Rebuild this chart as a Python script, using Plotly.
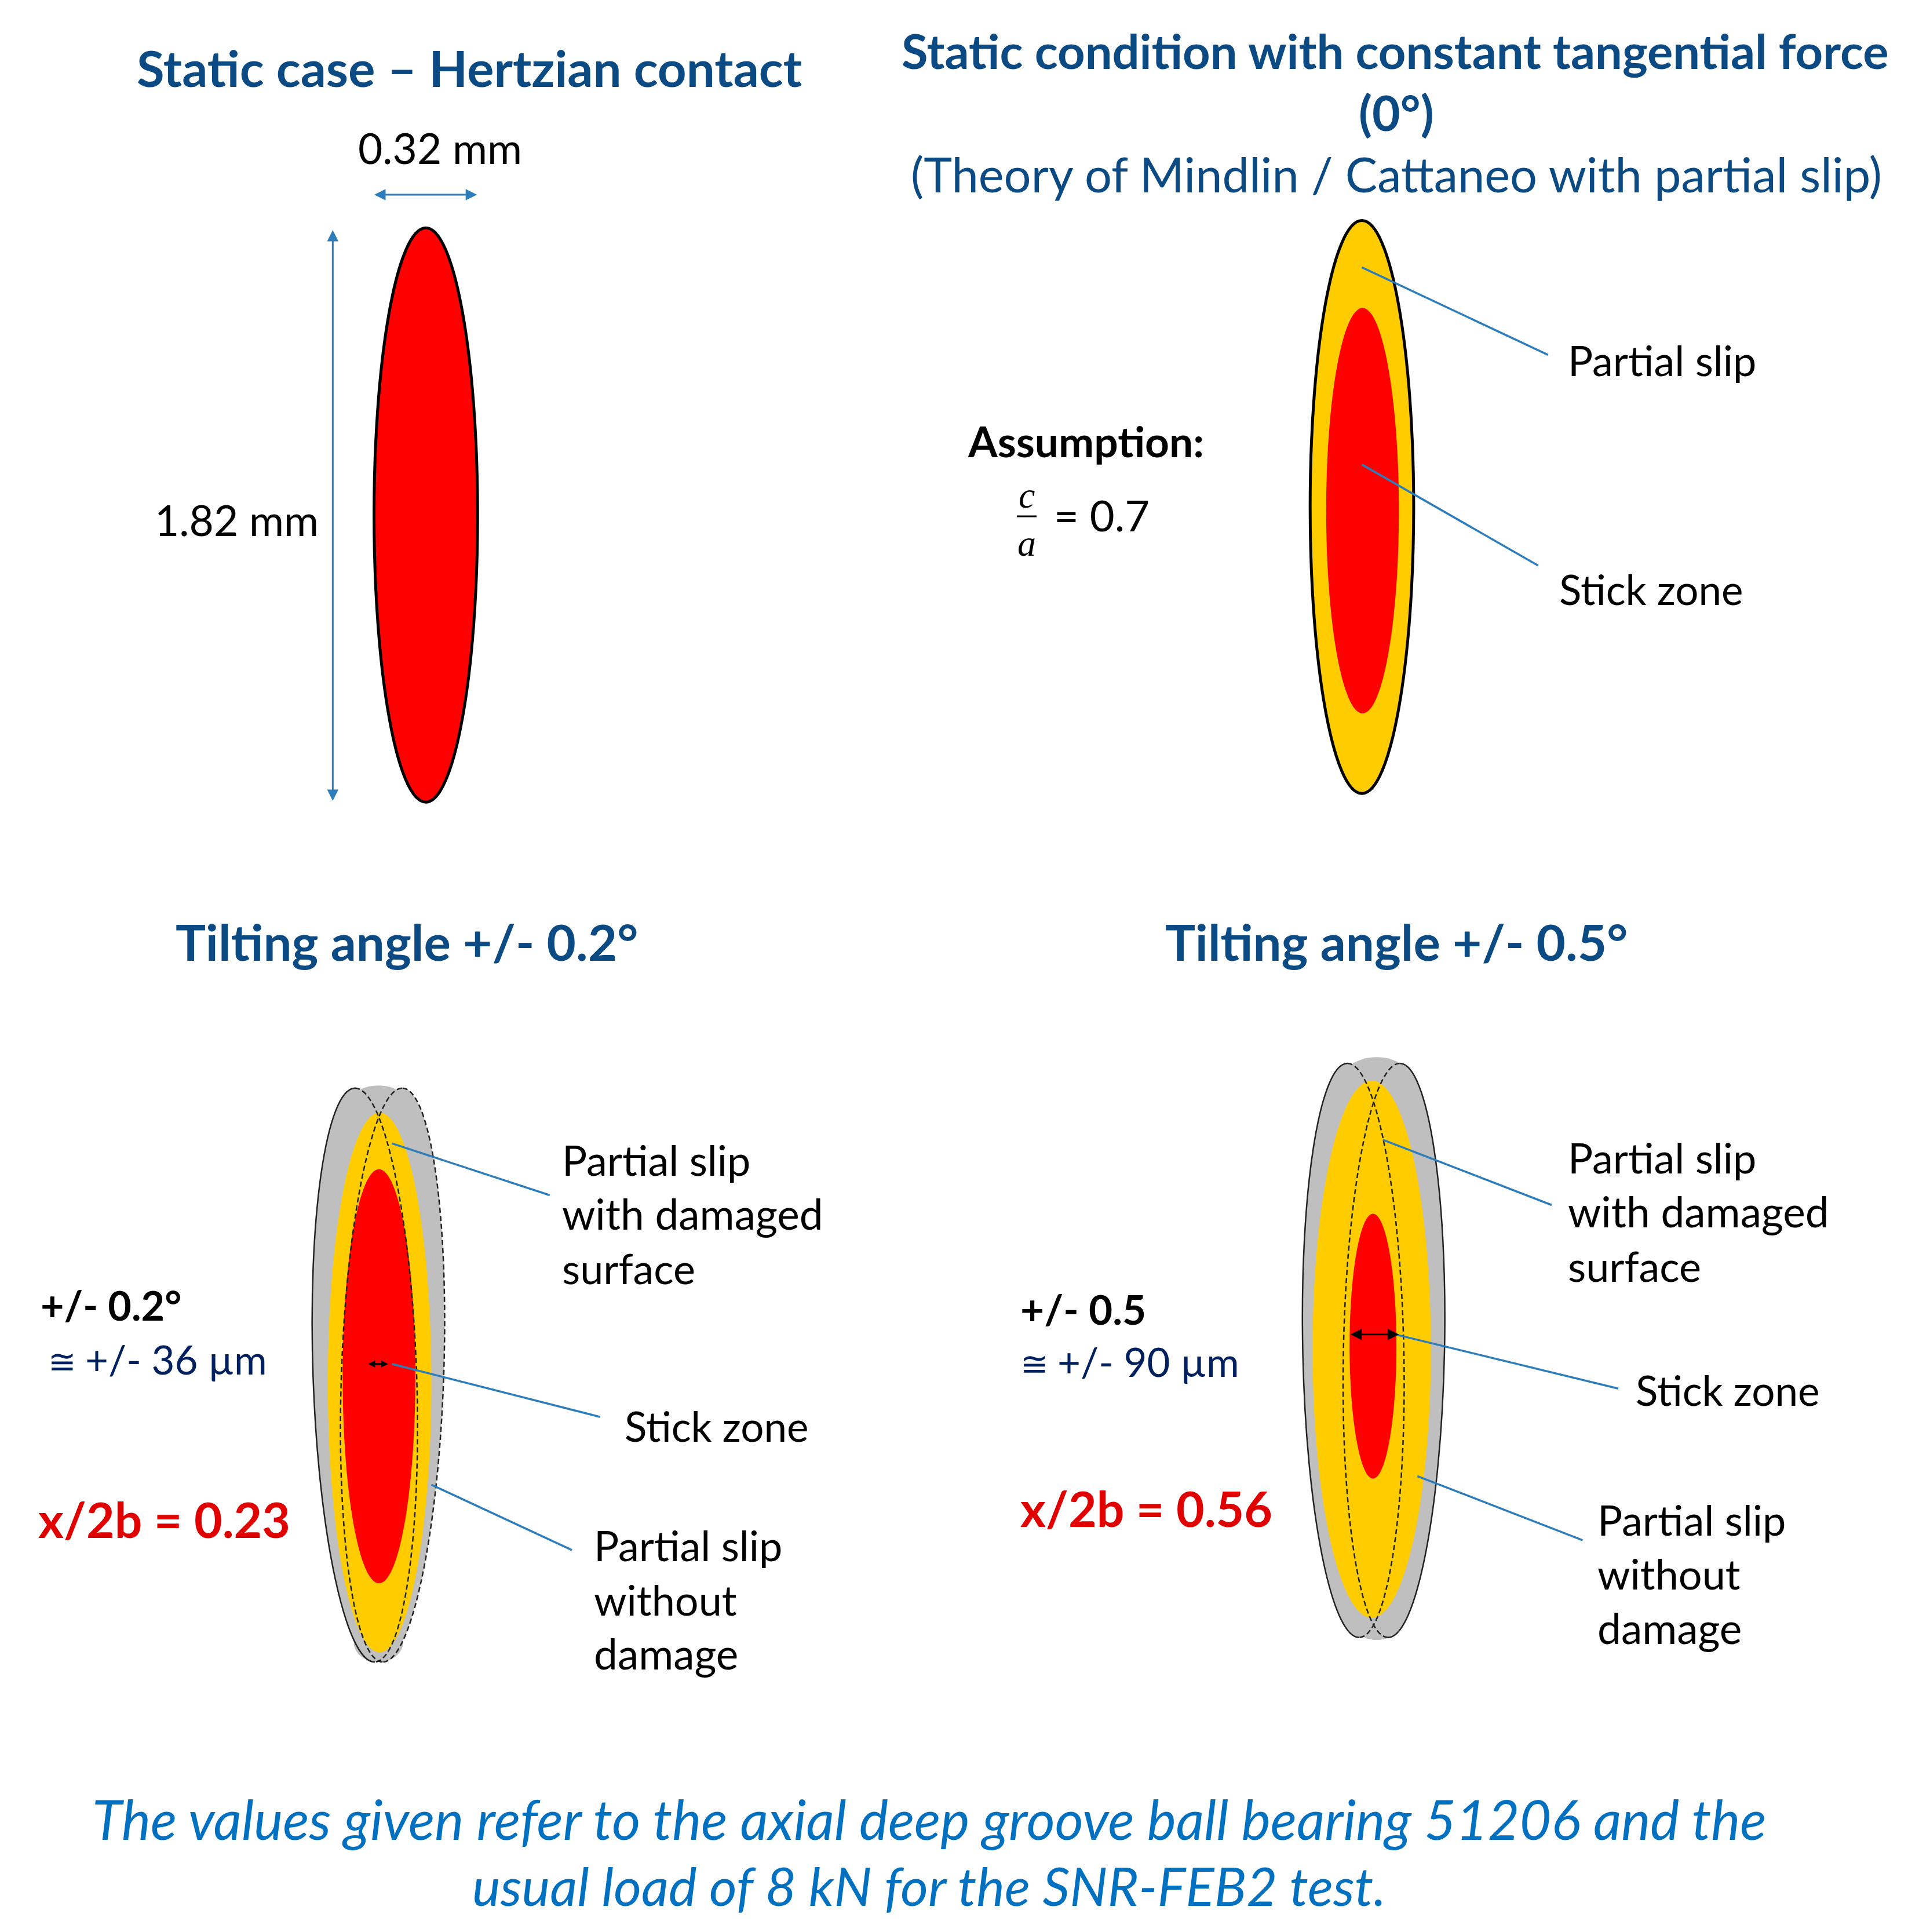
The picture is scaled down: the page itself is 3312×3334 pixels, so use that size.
import math
import plotly.graph_objects as go

# everything is measured on a 1557 x 1568 drawing of the page
PAGE_W, PAGE_H = 3312, 3334
RANGE_X, RANGE_Y = 1557, 1568

RED = "#ff0000"
GOLD = "#ffcc00"
GRAY = "#bfbfbf"
BLUE_LINE = "#2e7dbb"
TITLE_BLUE = "#0b4a82"
NAVY = "#002060"
DARK_RED = "#e00000"
FOOT_BLUE = "#0070c0"
FONT = "Lato"

# zones: cx, cy, rx, ry, tilt in degrees
hertz_zone = (345.5, 418, 42, 233, 0)
static_outer = (1105, 411.5, 42, 232.5, 0)
static_stick = (1105.5, 414.5, 29.5, 164.5, 0)

t02_caps = [(307, 898, 25, 17, 0), (307, 1333, 20, 16, 0)]
t02_left = (296, 1116, 42, 233, -2)
t02_right = (318.5, 1116, 41.5, 233, 2)
t02_slip = (308, 1122, 42, 219, 0)
t02_stick = (307.5, 1117, 29.5, 168, 0)

t05_caps = [(1117, 880, 30, 22, 0), (1117, 1312, 22, 19, 0)]
t05_left = (1098, 1096, 41, 233, -1.2)
t05_right = (1131, 1096, 41, 233, 1.2)
t05_slip = (1113, 1095, 48, 218, 0)
t05_stick = (1114, 1092.5, 19, 107.5, 0)

# leader lines
leader_x = [1105, 1256, None, 1105, 1248, None,
            318, 446, None, 318, 487, None, 350, 464, None,
            1122, 1259, None, 1128, 1313, None, 1150, 1284]
leader_y = [217, 288, None, 377, 459, None,
            928, 970, None, 1107, 1150, None, 1205, 1258, None,
            925, 978, None, 1082, 1127, None, 1198, 1250]

# double arrows: x0, y0, x1, y1, colour, head size
dim_arrows = [
    (303, 158, 387, 158, BLUE_LINE, 1.3),
    (270, 186, 270, 650, BLUE_LINE, 1.3),
    (298, 1107, 315, 1107, "black", 0.8),
    (1095, 1083, 1135, 1083, "black", 1.3),
]

# text: x, y, anchor, string, size, colour, bold, italic
titles = [
    (381, 55, "center", "Static case – Hertzian contact", 87, TITLE_BLUE, True, False),
    (1132, 41, "center", "Static condition with constant tangential force", 83, TITLE_BLUE, True, False),
    (1133, 91, "center", "(0°)", 84, TITLE_BLUE, True, False),
    (1133, 141, "center", "(Theory of Mindlin / Cattaneo with partial slip)", 83, TITLE_BLUE, False, False),
    (330, 764, "center", "Tilting angle +/- 0.2°", 87, TITLE_BLUE, True, False),
    (1133, 764, "center", "Tilting angle +/- 0.5°", 87, TITLE_BLUE, True, False),
]
labels = [
    (357, 120, "center", "0.32 mm", 73, "black", False, False),
    (192, 422, "center", "1.82 mm", 73, "black", False, False),
    (1271, 292, "left", "Partial slip", 72, "black", False, False),
    (1264, 478, "left", "Stick zone", 71, "black", False, False),
    (784, 358, "left", "Assumption:", 73, "black", True, False),
    (854, 418, "left", "= 0.7", 74, "black", False, False),
    (455, 941, "left", "Partial slip", 72, "black", False, False),
    (455, 985, "left", "with damaged", 73, "black", False, False),
    (455, 1029, "left", "surface", 72, "black", False, False),
    (506, 1157, "left", "Stick zone", 71, "black", False, False),
    (481, 1254, "left", "Partial slip", 72, "black", False, False),
    (481, 1298, "left", "without", 72, "black", False, False),
    (481, 1342, "left", "damage", 73, "black", False, False),
    (32, 1059, "left", "+/- 0.2°", 70, "black", True, False),
    (38, 1104, "left", "≅", 58, NAVY, False, False),
    (68, 1103, "left", "+/- 36 µm", 69, NAVY, False, False),
    (30, 1233, "left", "x/2b = 0.23", 84, DARK_RED, True, False),
    (1271, 939, "left", "Partial slip", 72, "black", False, False),
    (1271, 983, "left", "with damaged", 73, "black", False, False),
    (1271, 1027, "left", "surface", 72, "black", False, False),
    (1326, 1128, "left", "Stick zone", 71, "black", False, False),
    (1295, 1233, "left", "Partial slip", 72, "black", False, False),
    (1295, 1277, "left", "without", 72, "black", False, False),
    (1295, 1321, "left", "damage", 73, "black", False, False),
    (827, 1062, "left", "+/- 0.5", 71, "black", True, False),
    (827, 1106, "left", "≅", 58, NAVY, False, False),
    (857, 1105, "left", "+/- 90 µm", 69, NAVY, False, False),
    (827, 1224, "left", "x/2b = 0.56", 84, DARK_RED, True, False),
]
footer = [
    (754, 1476, "center", "The values given refer to the axial deep groove ball bearing 51206 and the", 94.5, FOOT_BLUE, False, True),
    (754, 1530, "center", "usual load of 8 kN for the SNR-FEB2 test.", 92, FOOT_BLUE, False, True),
]
fraction_letters = [(833, 402, "c"), (833, 441, "a")]
fraction_bar = ([825, 841], [419, 419])


def ellipse_path(zone, quarters=(0, 1, 2, 3)):
    # quarter arcs run clockwise from the top: 0,1 right half, 2,3 left half
    cx, cy, rx, ry, tilt = zone
    t = math.radians(tilt)
    k = 0.5523

    def pt(x, y):
        return (f"{cx + x * math.cos(t) - y * math.sin(t):.2f},"
                f"{cy + x * math.sin(t) + y * math.cos(t):.2f}")

    segs = [
        ((0, -ry), (k * rx, -ry), (rx, -k * ry), (rx, 0)),
        ((rx, 0), (rx, k * ry), (k * rx, ry), (0, ry)),
        ((0, ry), (-k * rx, ry), (-rx, k * ry), (-rx, 0)),
        ((-rx, 0), (-rx, -k * ry), (-k * rx, -ry), (0, -ry)),
    ]
    path = "M " + pt(*segs[quarters[0]][0])
    for q in quarters:
        _, a, b, c = segs[q]
        path += f" C {pt(*a)} {pt(*b)} {pt(*c)}"
    return path


def filled(zone, color, line_color=None, line_width=0):
    return dict(type="path", xref="x", yref="y", layer="below", path=ellipse_path(zone),
                fillcolor=color, line=dict(color=line_color or color, width=line_width))


def outline(zone, quarters, dash, width=2.5):
    return dict(type="path", xref="x", yref="y", layer="below", path=ellipse_path(zone, quarters),
                fillcolor="rgba(0,0,0,0)", line=dict(color="#222222", width=width, dash=dash))


RIGHT, LEFT = (0, 1), (2, 3)
FINE = "9px,5px"

shapes = [
    filled(hertz_zone, RED, "black", 5),
    filled(static_outer, GOLD, "black", 5),
    filled(static_stick, RED),
    # +/- 0.2
    *[filled(c, GRAY) for c in t02_caps], filled(t02_left, GRAY), filled(t02_right, GRAY),
    filled(t02_slip, GOLD), filled(t02_stick, RED),
    outline(t02_left, LEFT, "solid"), outline(t02_left, RIGHT, FINE),
    outline(t02_right, LEFT, FINE), outline(t02_right, RIGHT, FINE),
    # +/- 0.5
    *[filled(c, GRAY) for c in t05_caps], filled(t05_left, GRAY), filled(t05_right, GRAY),
    filled(t05_slip, GOLD), filled(t05_stick, RED),
    outline(t05_left, LEFT, "solid"), outline(t05_left, RIGHT, FINE),
    outline(t05_right, LEFT, FINE), outline(t05_right, RIGHT, "solid"),
]

fig = go.Figure()
fig.add_trace(go.Scatter(x=leader_x, y=leader_y, mode="lines", hoverinfo="skip",
                         line=dict(color=BLUE_LINE, width=3.5)))
fig.add_trace(go.Scatter(x=fraction_bar[0], y=fraction_bar[1], mode="lines", hoverinfo="skip",
                         line=dict(color="black", width=3)))

for x0, y0, x1, y1, color, head in dim_arrows:
    fig.add_annotation(x=x1, y=y1, ax=x0, ay=y0, xref="x", yref="y", axref="x", ayref="y",
                       text="", showarrow=True, arrowhead=2, arrowside="end+start",
                       arrowsize=head, arrowwidth=3, arrowcolor=color)

for x, y, anchor, text, size, color, bold, italic in titles + labels + footer:
    fig.add_annotation(x=x, y=y, xref="x", yref="y", xanchor=anchor, yanchor="middle",
                       text=text, showarrow=False,
                       font=dict(family=FONT, size=size, color=color,
                                 weight="bold" if bold else "normal",
                                 style="italic" if italic else "normal"))

for x, y, letter in fraction_letters:
    fig.add_annotation(x=x, y=y, xref="x", yref="y", text=letter, showarrow=False,
                       font=dict(family="Liberation Serif", size=64, color="black", style="italic"))

fig.update_xaxes(range=[0, RANGE_X], visible=False, fixedrange=True)
fig.update_yaxes(range=[RANGE_Y, 0], visible=False, fixedrange=True)
fig.update_layout(width=PAGE_W, height=PAGE_H, margin=dict(l=0, r=0, t=0, b=0),
                  paper_bgcolor="white", plot_bgcolor="white", showlegend=False, shapes=shapes)

fig.write_html("out.html", config=dict(displayModeBar=False),
               post_script="document.body.style.margin='0';")
